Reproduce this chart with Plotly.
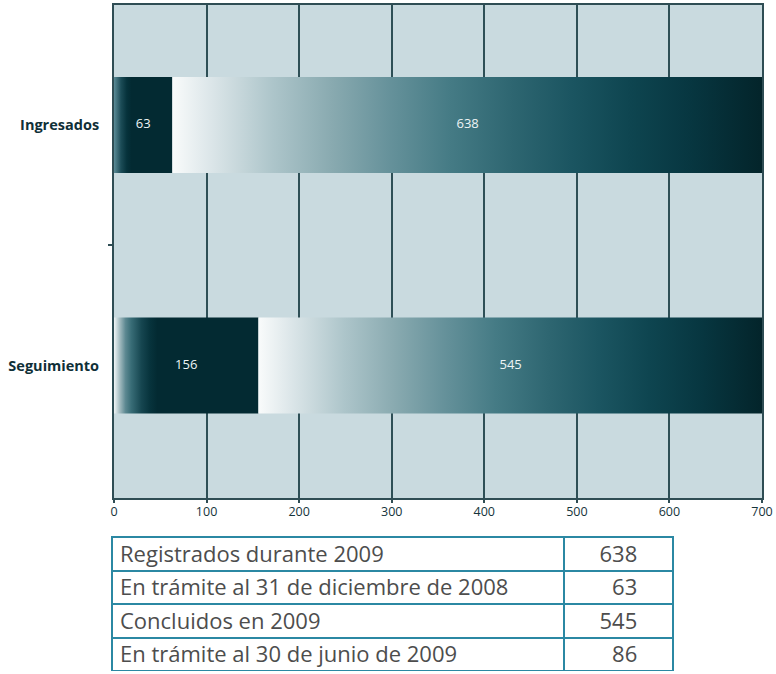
import plotly.graph_objects as go

# ---------------- data ----------------
categories = ["Ingresados", "Seguimiento"]
first_segment = [63, 156]      # en trámite al inicio / al 31 dic 2008
second_segment = [638, 545]    # registrados / concluidos
x_ticks = [0, 100, 200, 300, 400, 500, 600, 700]

table_labels = [
    "Registrados durante 2009",
    "En trámite al 31 de diciembre de 2008",
    "Concluidos en 2009",
    "En trámite al 30 de junio de 2009",
]
table_values = [638, 63, 545, 86]

# ---------------- style ----------------
W, H = 776, 674
BAR_W = 0.4
DARK = "#032a32"
PLOT_BG = "#c9dadf"
GRID = "#2e4f56"
TEXT_DARK = "#0f2f37"
TABLE_LINE = "#2b88a3"
TABLE_TEXT = "#4d4d4d"
FONT = "Open Sans"

seg1_scales = [
    [[0, "#5b8b96"], [0.12, "#1c4c57"], [0.22, "#06323b"], [0.3, DARK], [1, DARK]],
    [[0, "#f2f6f7"], [0.04, "#a3bbc0"], [0.08, "#5c8891"], [0.12, "#386c76"],
     [0.19, "#164650"], [0.25, "#07333c"], [0.3, DARK], [1, DARK]],
]
seg2_scale = [
    [0, "#f9fbfb"], [0.065, "#dce6e9"], [0.17, "#adc5ca"], [0.27, "#89aab0"],
    [0.37, "#65919a"], [0.47, "#457b85"], [0.575, "#2e6671"], [0.675, "#1b5561"],
    [0.775, "#0e4550"], [0.88, "#073640"], [1, "#03242a"],
]

ypos = {"Ingresados": 1, "Seguimiento": 0}

fig = go.Figure()
label_x, label_y, label_t = [], [], []
for i, cat in enumerate(categories):
    c = ypos[cat]
    segs = [(0, first_segment[i], seg1_scales[i]),
            (first_segment[i], first_segment[i] + second_segment[i], seg2_scale)]
    for (s, e, scale), val in zip(segs, [first_segment[i], second_segment[i]]):
        fig.add_trace(go.Scatter(
            x=[s, e, e, s, s],
            y=[c - BAR_W / 2, c - BAR_W / 2, c + BAR_W / 2, c + BAR_W / 2, c - BAR_W / 2],
            mode="lines", line=dict(width=0), fill="toself",
            fillgradient=dict(type="horizontal", colorscale=scale, start=s, stop=e),
            hoverinfo="skip", showlegend=False,
        ))
        label_x.append((s + e) / 2)
        label_y.append(c)
        label_t.append(str(val))

fig.add_trace(go.Scatter(
    x=label_x, y=label_y, text=label_t, mode="text",
    textfont=dict(color="#eef4f5", size=13, family=FONT),
    hoverinfo="skip", showlegend=False,
))

# invisible trace to activate the secondary y axis (tick between categories)
fig.add_trace(go.Scatter(x=[0], y=[0.5], mode="markers", marker=dict(opacity=0),
                         yaxis="y2", hoverinfo="skip", showlegend=False))

# table
fmt_values = [f"{v:>3}".replace(" ", "\u2007") for v in table_values]
tfont = dict(family=FONT, size=22, color=TABLE_TEXT)
fig.add_trace(go.Table(
    domain=dict(x=[112 / W, 673 / W], y=[1 - 672 / H, 1 - 537 / H]),
    columnwidth=[451, 109],
    header=dict(values=[table_labels[0], fmt_values[0]],
                align=["left", "center"], height=33.5,
                fill_color="white", line=dict(color=TABLE_LINE, width=2),
                font=tfont),
    cells=dict(values=[table_labels[1:], fmt_values[1:]],
               align=["left", "center"], height=33.5,
               fill_color="white", line=dict(color=TABLE_LINE, width=2),
               font=tfont),
))

y_rng = [-0.551, 1.501]
fig.update_layout(
    width=W, height=H,
    margin=dict(l=0, r=0, t=0, b=0, pad=0),
    paper_bgcolor="white", plot_bgcolor=PLOT_BG,
    font=dict(family=FONT, color=TEXT_DARK),
    xaxis=dict(
        domain=[114 / W, 762 / W], range=[0, 700], tickvals=x_ticks,
        showgrid=True, gridcolor=GRID, gridwidth=1.5,
        showline=True, linecolor="#2f4d54", linewidth=2, mirror=True,
        ticks="outside", ticklen=3, tickcolor="#2f4d54", tickwidth=1.5,
        tickfont=dict(size=12.5, color="#15343b", family=FONT),
        ticklabelstandoff=-2,
        zeroline=False, automargin=False, fixedrange=True,
    ),
    yaxis=dict(
        domain=[1 - 498 / H, 1 - 4.5 / H], range=y_rng,
        tickvals=[ypos[c] for c in categories], ticktext=categories,
        ticks="", showgrid=False, zeroline=False,
        showline=True, linecolor="#2f4d54", linewidth=2, mirror=True,
        tickfont=dict(size=14.5, color=TEXT_DARK, family=FONT, weight="bold"),
        ticklabelstandoff=10,
        automargin=False, fixedrange=True,
    ),
    yaxis2=dict(
        overlaying="y", side="left", range=y_rng, tickvals=[0.5],
        ticks="outside", ticklen=5, tickwidth=1.5, tickcolor="#2f4d54",
        showticklabels=False, showgrid=False, zeroline=False, showline=False,
        automargin=False, fixedrange=True,
    ),
)

fig.write_html("out.html",
               config={"displayModeBar": False},
               post_script="document.body.style.margin='0px';")
